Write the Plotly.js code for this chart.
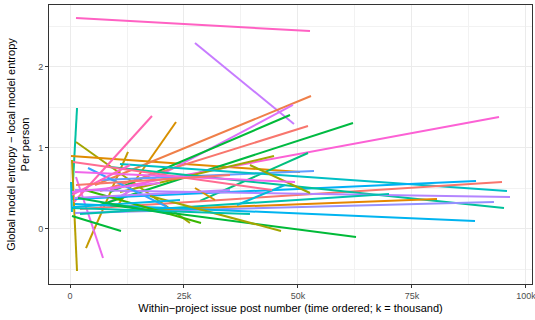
<!DOCTYPE html>
<html>
<head>
<meta charset="utf-8">
<script src="https://cdn.plot.ly/plotly-3.0.1.min.js"></script>
<style>html,body{margin:0;padding:0;background:#fff;}#chart{width:535px;height:320px;}</style>
</head>
<body>
<div id="chart"></div>
<script>
// Per-person fitted lines: start/end post number and start/end entropy difference
const startPost = [1320, 27410, 1540, 1320, 220, 440, 3510, 1320, 880, 10530, 5480, 6580, 8770, 6580, 6580, 8770, 10960, 28510, 6580, 10960, 1100, 2190, 8770, 1100, 1100, 10960, 2190, 1100, 8770, 17540, 39470, 36620, 27410, 3290, 440, 3950, 660, 1100, 220, 880, 440, 440, 1320, 660, 440, 1750];
const endPost   = [52630, 49120, 440, 26320, 50440, 1540, 12720, 7240, 17980, 23250, 52850, 48900, 48250, 52190, 62060, 94080, 44740, 52190, 53510, 95830, 89040, 94740, 95180, 96490, 92980, 80480, 69960, 88820, 62720, 46270, 52630, 47150, 31800, 28730, 11180, 21270, 44300, 49340, 440, 35090, 39470, 13160, 35090, 24120, 19740, 21930];
const startVal  = [2.605, 2.296, 1.494, 1.074, 0.901, 0.852, -0.235, 0.642, 0.333, 0.296, 0.543, 0.272, 0.457, 0.469, 0.296, 0.494, 0.457, 0.346, 0.605, 0.802, 0.370, 0.247, 0.765, 0.481, 0.198, 0.222, 0.185, 0.309, 0.296, 0.407, 0.790, 0.296, 0.506, 0.481, 0.160, 0.753, 0.827, 0.704, 0.580, 0.383, 0.259, 0.420, 0.543, 0.272, 0.457, 0.383];
const endVal    = [2.444, 1.296, 0.358, 0.074, 0.704, -0.519, 0.951, -0.358, 1.395, 1.321, 1.642, 1.531, 1.407, 1.272, 1.309, 1.383, 0.901, 0.938, 0.716, 0.469, 0.593, 0.580, 0.259, 0.395, 0.333, 0.370, 0.432, 0.099, -0.099, -0.025, 0.444, 0.543, 0.358, 0.074, -0.025, 0.272, 0.481, 0.580, 0.210, 0.481, 0.185, 0.790, 0.667, 0.358, 0.568, 0.185];
const personColor = ["#FF61C3", "#C77CFF", "#00C1A3", "#A3A500", "#E08B00", "#B79F00", "#C49A00", "#ED68ED", "#FF64B0", "#D89000", "#EF7F49", "#DC71FA", "#00BA38", "#F8766D", "#00BA42", "#FC61D5", "#A3A500", "#00BF7D", "#619CFF", "#00BFC4", "#00B0F6", "#F8766D", "#00C19A", "#B385FF", "#9590FF", "#E58700", "#00C0AF", "#00B4F0", "#00BA38", "#A3A500", "#9CA700", "#00BCD8", "#D39200", "#39B600", "#00BA38", "#35A2FF", "#FF6C91", "#F066EA", "#00BCD8", "#B983FF", "#00C0AF", "#FF61C3", "#F8766D", "#00B8E7", "#E76BF3", "#00BB4E"];

const xTickVals = [0, 25000, 50000, 75000, 100000];
const xTickText = ["0", "25k", "50k", "75k", "100k"];
const yTickVals = [0, 1, 2];
const yTickText = ["0", "1", "2"];

const traces = startPost.map((s, i) => ({
  type: "scatter",
  mode: "lines",
  x: [s, endPost[i]],
  y: [startVal[i], endVal[i]],
  line: {color: personColor[i], width: 2},
  showlegend: false,
  hoverinfo: "skip"
}));

const axisCommon = {
  showgrid: true,
  gridcolor: "#EBEBEB",
  gridwidth: 1,
  zeroline: false,
  showline: true,
  mirror: true,
  linecolor: "#333333",
  linewidth: 1,
  ticks: "outside",
  ticklen: 3,
  tickwidth: 1,
  tickcolor: "#333333",
  ticklabeloverflow: "allow",
  tickfont: {family: "Liberation Sans, Arial, sans-serif", size: 9, color: "#4D4D4D"}
};

const layout = {
  width: 535,
  height: 320,
  margin: {l: 49, r: 3, t: 5, b: 36},
  paper_bgcolor: "#FFFFFF",
  plot_bgcolor: "#FFFFFF",
  xaxis: Object.assign({}, axisCommon, {
    range: [-4605, 101320],
    tickvals: xTickVals,
    ticktext: xTickText,
    minor: {dtick: 12500, tick0: 12500, showgrid: true, gridcolor: "#F2F2F2", gridwidth: 1, ticks: ""},
    title: {text: "Within\u2212project issue post number (time ordered; k = thousand)", font: {family: "Liberation Sans, Arial, sans-serif", size: 11, color: "#000000"}, standoff: 4}
  }),
  yaxis: Object.assign({}, axisCommon, {
    range: [-0.679, 2.765],
    tickvals: yTickVals,
    ticktext: yTickText,
    minor: {dtick: 0.5, tick0: 0.5, showgrid: true, gridcolor: "#F2F2F2", gridwidth: 1, ticks: ""},
    title: {text: "Global model entropy \u2212 local model entropy<br>Per person", font: {family: "Liberation Sans, Arial, sans-serif", size: 11, color: "#000000"}, standoff: 6}
  })
};

Plotly.newPlot("chart", traces, layout, {displayModeBar: false, staticPlot: true});
</script>
</body>
</html>
